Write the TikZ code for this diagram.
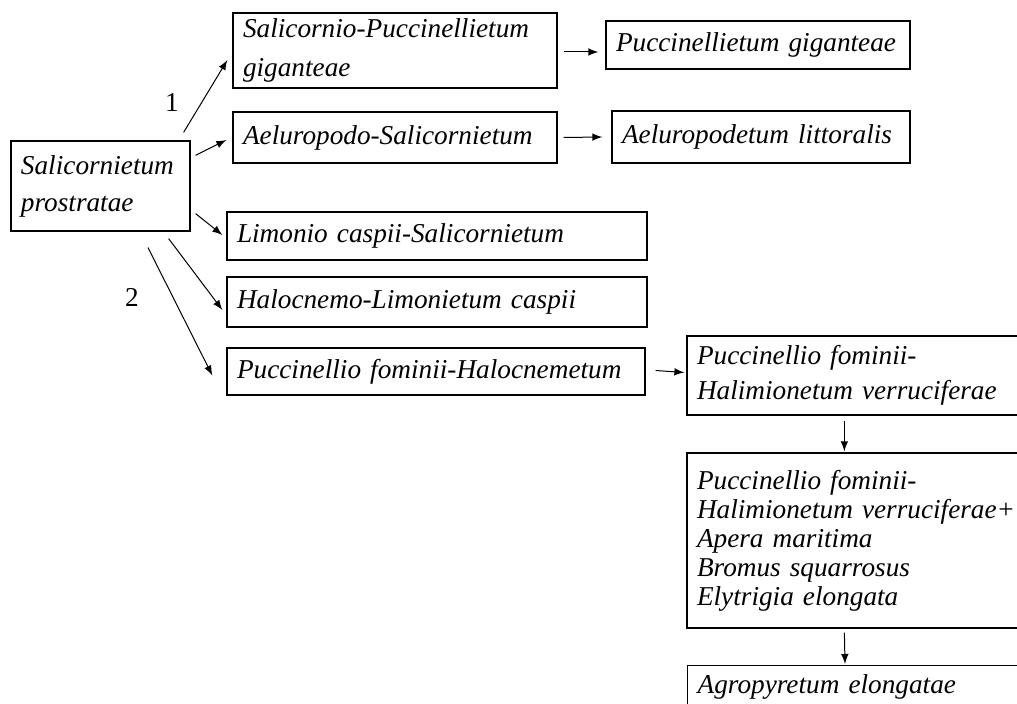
\documentclass[tikz,border=0pt]{standalone}
\usepackage{fontspec}
\setmainfont{Liberation Serif}[ItalicFont={Liberation Serif Italic}]
\usetikzlibrary{calc}

\tikzset{
  assoc/.style={draw,line width=0.5pt,inner xsep=4pt,inner ysep=2pt,align=left,
    font=\fontsize{10.9}{14.8}\selectfont\itshape},
  link/.style={>=latex,->,line width=0.4pt}
}

\begin{document}
\begin{tikzpicture}[x=0.4pt,y=-0.4pt]

\useasboundingbox (0,0) rectangle (1017,704);
\clip (0,0) rectangle (1017,704);

\node[assoc,text width=63.6pt,minimum height=36pt] (sp) at (100.5,186) {Salicornietum\\prostratae};

\node[assoc,text width=121.6pt,minimum height=30pt,font=\fontsize{10.9}{15.5}\selectfont\itshape] (spg) at (395,50.5) {Salicornio-Puccinellietum\\giganteae};
\node[assoc,text width=121.6pt,minimum height=20.4pt] (as) at (395,137.5) {Aeluropodo-Salicornietum};
\node[assoc,text width=113.6pt,minimum height=19.2pt] (pg) at (758,45) {Puccinellietum giganteae};
\node[assoc,text width=111.2pt,minimum height=20.8pt] (al) at (761,137) {Aeluropodetum littoralis};

\node[assoc,text width=160pt,minimum height=19.2pt] (lcs) at (437,236) {Limonio caspii-Salicornietum};
\node[assoc,text width=160pt,minimum height=20pt] (hlc) at (437,302) {Halocnemo-Limonietum caspii};
\node[assoc,text width=159.2pt,minimum height=18.8pt] (pfh) at (436,371.5) {Puccinellio fominii-Halocnemetum};

\node[assoc,text width=129.2pt,minimum height=31.6pt,font=\fontsize{10.9}{14}\selectfont\itshape] (pfhv) at (858.5,375.5) {Puccinellio fominii-\\Halimionetum verruciferae};
\node[assoc,text width=129.2pt,minimum height=70pt,font=\fontsize{10.9}{11.6}\selectfont\itshape] (pfhx) at (858.5,540.5) {Puccinellio fominii-\\Halimionetum verruciferae+\\Apera maritima\\Bromus squarrosus\\Elytrigia elongata};
\node[assoc,text width=129.2pt,anchor=north west,inner ysep=3.5pt,text depth=20pt] (ae) at (687,665) {Agropyretum elongatae};

\node[font=\fontsize{10.9}{12}\selectfont] (n1) at (172,103) {1};
\node[font=\fontsize{10.9}{12}\selectfont] (n2) at (132,297) {2};

\draw[link] ($(sp.north east)+(-7,-8)$) -- ($(spg.west)+(-5,9.5)$);
\draw[link] ($(sp.north east)+(5,15)$) -- ($(as.west)+(-6,2.5)$);
\draw[link] ($(sp.south east)+(5,-18)$) -- ($(lcs.west)+(-4,-1)$);
\draw[link] ($(sp.south east)+(-22,7)$) -- ($(hlc.west)+(-4,8)$);
\draw[link] ($(sp.south)+(47.5,16)$) -- ($(pfh.west)+(-14,4)$);

\draw[link] ($(spg.east)+(6,1.5)$) -- ($(pg.west)+(-7,7)$);
\draw[link] ($(as.east)+(6,0)$) -- ($(al.west)+(-9,0)$);
\draw[link] ($(pfh.east)+(10,-1)$) -- ($(pfhv.west)+(-2,-3)$);
\draw[link] ($(pfhv.south west)+(158,5)$) -- ($(pfhx.north west)+(158,-1)$);
\draw[link] ($(pfhx.south west)+(158,4)$) -- ($(ae.north west)+(158,-1)$);

\end{tikzpicture}
\end{document}
